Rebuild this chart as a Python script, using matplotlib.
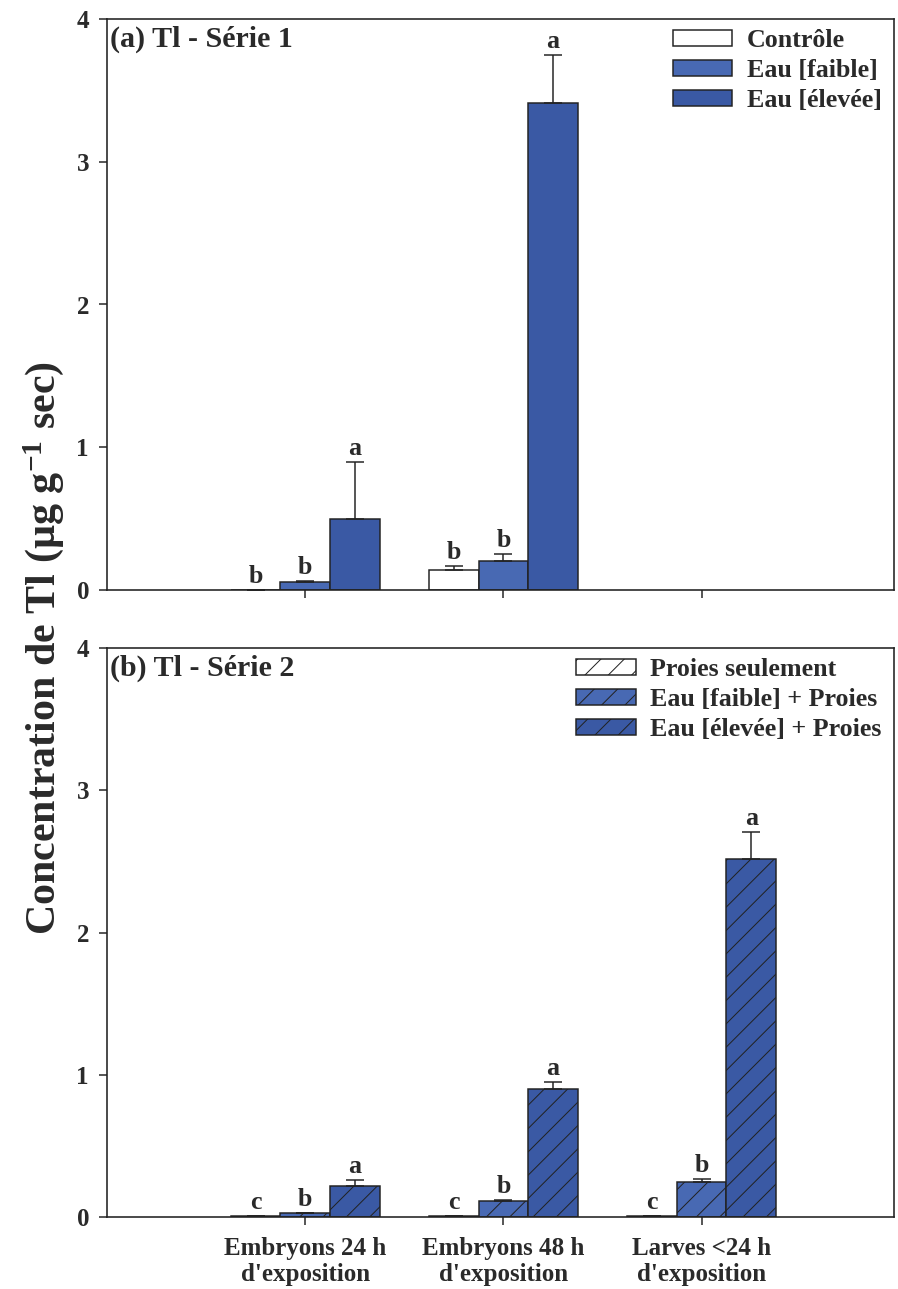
import matplotlib.pyplot as plt
import numpy as np

# valeurs (µg/g sec)
groups = ["Embryons 24 h\nd'exposition", "Embryons 48 h\nd'exposition", "Larves <24 h\nd'exposition"]

s1_labels = ['Contrôle', 'Eau [faible]', 'Eau [élevée]']
s1_ctrl = [0.0, 0.14, np.nan]
s1_ctrl_err = [0.0, 0.03, np.nan]
s1_low = [0.055, 0.20, np.nan]
s1_low_err = [0.005, 0.05, np.nan]
s1_high = [0.50, 3.41, np.nan]
s1_high_err = [0.40, 0.34, np.nan]
s1_letters = [['b', 'b', ''], ['b', 'b', ''], ['a', 'a', '']]

s2_labels = ['Proies seulement', 'Eau [faible] + Proies', 'Eau [élevée] + Proies']
s2_prey = [0.005, 0.005, 0.01]
s2_prey_err = [0.0, 0.0, 0.0]
s2_low = [0.03, 0.11, 0.245]
s2_low_err = [0.0, 0.01, 0.02]
s2_high = [0.22, 0.90, 2.52]
s2_high_err = [0.04, 0.05, 0.19]
s2_letters = [['c', 'c', 'c'], ['b', 'b', 'b'], ['a', 'a', 'a']]

colors = ['white', '#4869b3', '#3a59a4']

DPI = 70
def pt(px):
    # convertit des pixels en points pour dpi=70
    return px * 72.0 / DPI

plt.rcParams['font.family'] = ['Liberation Serif', 'DejaVu Serif']
plt.rcParams['font.weight'] = 'bold'
plt.rcParams['mathtext.fontset'] = 'custom'
plt.rcParams['mathtext.rm'] = 'Liberation Serif:bold'
plt.rcParams['mathtext.default'] = 'rm'
plt.rcParams['hatch.linewidth'] = pt(1.0)
plt.rcParams['axes.linewidth'] = pt(1.6)
plt.rcParams['text.color'] = '#2a2a2a'

W, H = 898, 1289
fig = plt.figure(figsize=(W / DPI, H / DPI), dpi=DPI)
ax1 = fig.add_axes([107 / W, 1 - 590 / H, (894 - 107) / W, 571 / H])
ax2 = fig.add_axes([107 / W, 1 - 1217 / H, (894 - 107) / W, 569 / H])

x = np.arange(len(groups))
w = 0.25

def draw_panel(ax, series, errs, labels, letters, hatch, title):
    handles = []
    for i in range(3):
        pos = x + (i - 1) * w
        vals = np.array(series[i], dtype=float)
        err = np.array(errs[i], dtype=float)
        b = ax.bar(pos, vals, w, color=colors[i], edgecolor='#222222',
                   linewidth=pt(1.5), hatch=hatch, label=labels[i],
                   yerr=[np.zeros_like(err), err],
                   error_kw=dict(ecolor='#222222', elinewidth=pt(1.5),
                                 capsize=pt(9), capthick=pt(1.5)))
        handles.append(b)
        for j in range(len(x)):
            if np.isnan(vals[j]) or letters[i][j] == '':
                continue
            ax.annotate(letters[i][j], (pos[j], vals[j] + err[j]),
                        xytext=(0, pt(2)), textcoords='offset points',
                        ha='center', va='bottom', fontsize=pt(26))
    ax.set_xlim(-1.0, 2.97)
    ax.set_ylim(0, 4)
    ax.set_yticks([0, 1, 2, 3, 4])
    ax.set_xticks(x)
    ax.tick_params(axis='both', direction='out', length=pt(8), width=pt(1.5),
                   labelsize=pt(25), colors='#222222', pad=pt(10))
    ax.tick_params(axis='y', labelcolor='#2a2a2a')
    ax.text(0.004, 0.988, title, transform=ax.transAxes, ha='left', va='top',
            fontsize=pt(30))
    ax.legend(handles=handles, loc='upper right', bbox_to_anchor=(0.9975, 1.0),
              frameon=False, fontsize=pt(26), handlelength=2.3,
              handleheight=0.55, handletextpad=0.55, labelspacing=0.26,
              borderaxespad=0)
    for s in ax.spines.values():
        s.set_color('#222222')

draw_panel(ax1, [s1_ctrl, s1_low, s1_high], [s1_ctrl_err, s1_low_err, s1_high_err],
           s1_labels, s1_letters, None, '(a) Tl - Série 1')
ax1.set_xticklabels(['', '', ''])

draw_panel(ax2, [s2_prey, s2_low, s2_high], [s2_prey_err, s2_low_err, s2_high_err],
           s2_labels, s2_letters, '/', '(b) Tl - Série 2')
ax2.set_xticklabels(groups, fontsize=pt(25), linespacing=1.15)
ax2.tick_params(axis='x', labelcolor='#2a2a2a', pad=pt(12))

fig.text(44 / W, 1 - 648 / H, 'Concentration de Tl (µg g$^{-1}$ sec)',
         rotation=90, ha='center', va='center', fontsize=pt(42))

fig.savefig('out.png', dpi=DPI)
